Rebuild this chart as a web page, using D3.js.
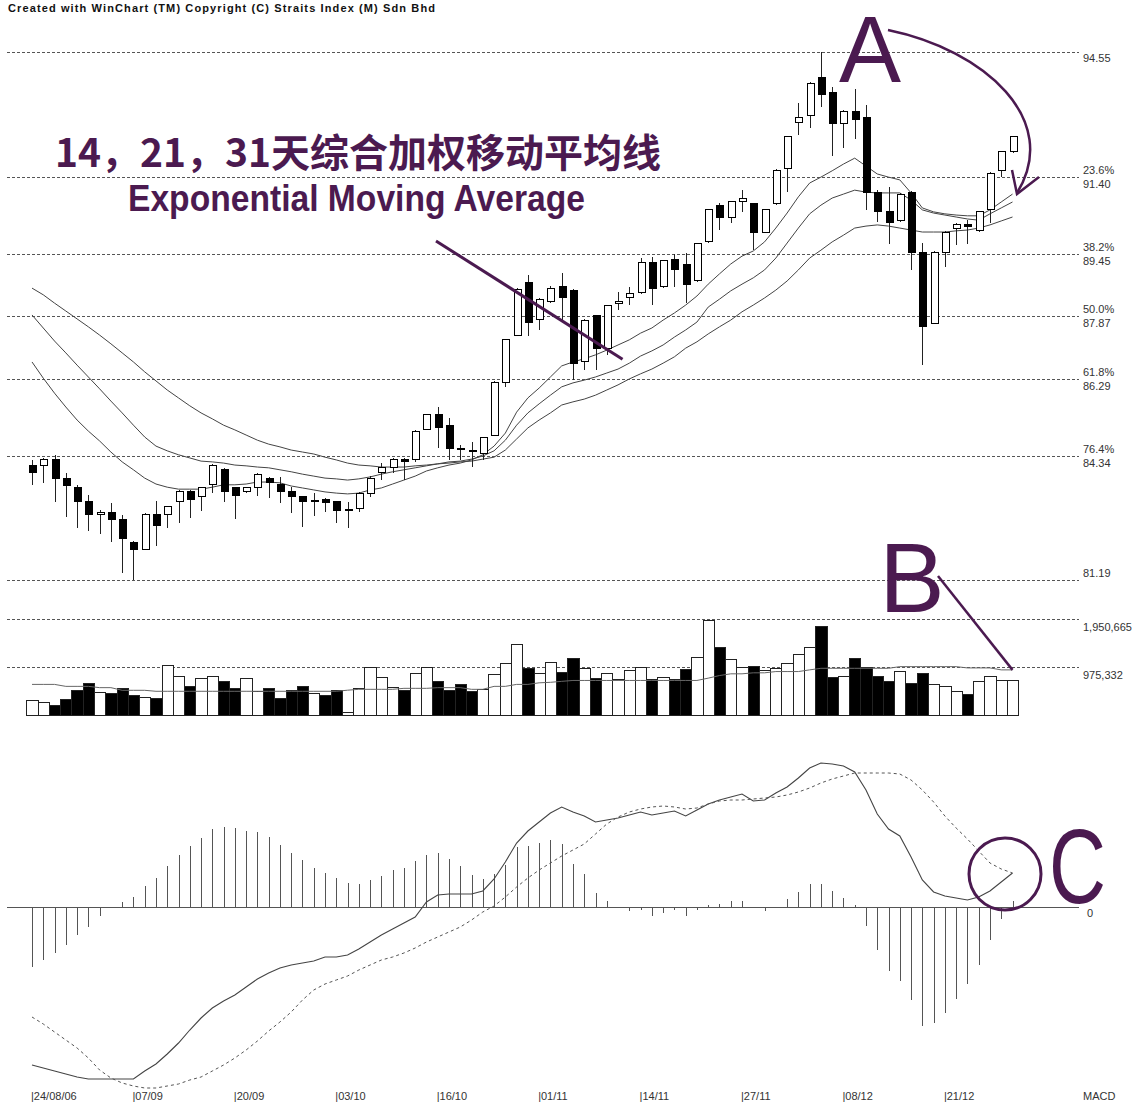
<!DOCTYPE html>
<html>
<head>
<meta charset="utf-8">
<script src="https://cdn.jsdelivr.net/npm/d3@7"></script>
<style>
  body { margin: 0; background: #fff; }
  text { font-family: "Liberation Sans", Arial, sans-serif; }
</style>
</head>
<body>
<script>
const width = 1143;
const height = 1106;

// daily bars 24/08/06 .. 29/12/06
const openP = [84.10,84.08,84.23,83.75,83.54,83.17,82.84,82.91,82.71,82.15,
  81.97,82.84,82.84,83.17,83.44,83.30,83.62,83.98,83.52,83.42,
  83.54,83.77,83.62,83.42,83.30,83.19,83.22,83.17,82.97,82.99,
  83.39,83.90,84.05,84.25,84.23,85.01,85.39,85.09,84.53,84.46,
  84.40,84.86,86.18,87.39,88.71,87.79,88.23,88.61,88.53,86.73,
  87.88,87.06,88.18,88.35,88.48,89.24,88.61,89.30,89.17,88.76,
  89.75,90.68,90.38,90.76,90.71,90.00,90.71,91.60,92.78,92.94,
  93.92,93.54,92.76,93.04,92.89,91.01,90.53,90.30,91.01,89.49,
  87.69,89.49,90.08,90.18,90.05,90.56,91.57,92.05];
const highP = [84.23,84.28,84.35,83.90,83.60,83.34,82.96,83.14,82.84,82.18,
  82.89,83.19,83.06,83.47,83.47,83.54,84.13,84.03,83.52,83.54,
  83.90,83.80,83.80,83.54,83.30,83.39,83.27,83.19,83.17,83.42,
  83.82,84.15,84.28,84.28,84.99,85.39,85.57,85.29,84.61,84.68,
  84.81,86.23,87.29,88.58,88.91,88.33,88.63,88.96,88.56,87.80,
  87.90,88.15,88.48,88.61,89.35,89.37,89.30,89.45,89.47,89.72,
  90.58,90.73,90.76,91.06,90.71,90.58,91.60,92.43,93.27,93.80,
  94.55,93.67,93.09,93.62,93.22,91.06,91.14,90.99,91.04,89.72,
  89.52,90.03,90.23,90.31,90.53,91.52,92.05,92.43];
const lowP = [83.60,83.65,83.17,82.79,82.51,82.43,82.35,82.15,81.37,81.19,
  81.95,82.05,82.51,82.63,82.76,82.94,83.39,83.17,82.74,83.40,
  83.32,83.27,83.14,82.89,82.53,82.81,82.91,82.63,82.51,82.91,
  83.30,83.72,83.90,83.72,84.18,84.99,84.53,84.23,84.23,84.05,
  84.23,84.83,86.08,87.37,87.37,87.52,88.20,87.77,86.25,86.51,
  86.51,86.89,88.03,88.15,88.43,88.15,88.58,88.61,88.20,88.73,
  89.72,90.05,90.23,90.51,89.55,89.97,90.68,91.01,92.46,92.63,
  93.16,91.92,92.12,92.35,90.56,90.25,89.70,90.25,89.04,86.63,
  87.67,89.11,89.67,89.70,90.00,90.23,91.39,92.00];
const closeP = [83.90,84.23,83.75,83.57,83.17,82.84,82.91,82.71,82.23,81.95,
  82.86,82.56,83.04,83.42,83.22,83.52,84.10,83.44,83.32,83.52,
  83.85,83.65,83.44,83.30,83.19,83.20,83.14,82.94,82.96,83.37,
  83.77,84.03,84.25,84.20,84.96,85.37,85.06,84.53,84.51,84.48,
  84.81,86.20,87.27,88.55,87.72,88.30,88.56,88.35,86.68,87.77,
  87.04,88.13,88.25,88.45,89.22,88.58,89.27,89.04,88.66,89.70,
  90.56,90.38,90.76,90.86,89.98,90.56,91.57,92.41,92.89,93.77,
  93.47,92.76,93.06,92.84,91.01,90.51,90.23,90.94,89.49,87.60,
  89.49,90.00,90.18,90.13,90.51,91.49,92.03,92.41];

const volume = [293000,261000,207000,327000,508000,642000,462000,442000,542000,393000,
  361000,341000,1010000,789000,594000,742000,789000,688000,554000,749000,
  474000,554000,341000,508000,594000,442000,393000,508000,60000,554000,
  975000,775000,574000,494000,855000,975000,688000,508000,622000,474000,
  528000,823000,1044000,1445000,955000,849000,1076000,863000,1164000,943000,
  755000,843000,729000,909000,963000,729000,775000,729000,923000,1176000,
  1927000,1377000,1130000,975000,989000,909000,955000,1056000,1244000,1377000,
  1812000,775000,790000,1156000,963000,795000,694000,889000,642000,843000,
  628000,588000,488000,421000,688000,789000,708000,708000];
const volumeAvg = [628000,628000,628000,588000,588000,588000,562000,562000,508000,508000,
  508000,488000,488000,488000,488000,488000,488000,488000,488000,488000,
  488000,488000,488000,488000,488000,488000,488000,488000,510000,528000,
  528000,528000,528000,548000,548000,548000,562000,562000,562000,528000,
  528000,588000,588000,628000,628000,660000,670000,690000,708000,708000,
  708000,708000,708000,708000,708000,708000,708000,708000,708000,708000,
  755000,808000,843000,843000,863000,863000,889000,889000,889000,923000,
  955000,955000,955000,955000,955000,955000,955000,989000,989000,989000,
  989000,989000,989000,963000,963000,963000,923000,923000];

const ema14 = [86.71,86.30,85.92,85.57,85.24,84.96,84.71,84.43,84.18,83.98,
  83.77,83.62,83.54,83.49,83.49,83.49,83.54,83.60,83.60,83.62,
  83.67,83.67,83.65,83.57,83.52,83.47,83.42,83.39,83.37,83.39,
  83.47,83.52,83.62,83.72,83.82,83.95,84.03,84.10,84.15,84.23,
  84.36,84.58,84.91,85.44,85.80,86.05,86.33,86.61,86.71,86.79,
  86.89,87.01,87.14,87.27,87.44,87.57,87.77,87.95,88.15,88.38,
  88.68,88.94,89.19,89.39,89.52,89.75,90.10,90.48,90.89,91.24,
  91.39,91.55,91.72,91.87,91.67,91.47,91.39,91.32,90.99,90.61,
  90.51,90.46,90.43,90.41,90.41,90.56,90.76,90.96];
const ema21 = [87.90,87.57,87.24,86.94,86.63,86.33,86.03,85.72,85.42,85.11,
  84.81,84.58,84.46,84.36,84.28,84.20,84.18,84.15,84.10,84.08,
  84.05,84.03,83.98,83.93,83.87,83.82,83.77,83.75,83.72,83.75,
  83.80,83.87,83.93,83.98,84.03,84.08,84.13,84.18,84.20,84.25,
  84.33,84.46,84.73,85.11,85.42,85.65,85.87,86.08,86.18,86.25,
  86.33,86.43,86.53,86.68,86.86,86.99,87.14,87.34,87.52,87.72,
  88.10,88.30,88.51,88.68,88.84,89.04,89.34,89.72,90.10,90.46,
  90.68,90.86,90.96,91.06,91.01,90.99,90.99,90.99,90.81,90.56,
  90.48,90.43,90.38,90.33,90.30,90.46,90.61,90.76];
const ema31 = [88.58,88.41,88.20,88.00,87.80,87.60,87.39,87.17,86.94,86.71,
  86.46,86.23,86.00,85.80,85.60,85.42,85.27,85.11,84.99,84.86,
  84.73,84.63,84.56,84.48,84.43,84.38,84.30,84.23,84.15,84.10,
  84.08,84.05,84.05,84.05,84.08,84.10,84.13,84.15,84.18,84.20,
  84.25,84.30,84.48,84.76,85.04,85.24,85.42,85.62,85.70,85.77,
  85.87,86.00,86.13,86.28,86.41,86.53,86.68,86.84,87.06,87.22,
  87.42,87.60,87.77,87.98,88.15,88.33,88.53,88.76,89.04,89.34,
  89.54,89.75,89.92,90.10,90.15,90.18,90.15,90.10,90.05,90.00,
  90.00,90.00,90.03,90.05,90.10,90.18,90.28,90.38];

const macd = [-1.58,-1.61,-1.64,-1.67,-1.70,-1.72,-1.72,-1.72,-1.72,-1.72,
  -1.64,-1.57,-1.47,-1.36,-1.23,-1.11,-1.01,-0.94,-0.88,-0.80,
  -0.72,-0.66,-0.61,-0.58,-0.56,-0.54,-0.50,-0.50,-0.48,-0.42,
  -0.35,-0.28,-0.22,-0.16,-0.10,0.05,0.12,0.13,0.13,0.13,
  0.16,0.28,0.45,0.64,0.76,0.85,0.94,1.00,0.95,0.91,
  0.85,0.87,0.89,0.92,0.95,0.92,0.94,0.96,0.91,0.97,
  1.03,1.07,1.10,1.13,1.06,1.07,1.14,1.20,1.29,1.39,
  1.44,1.43,1.41,1.35,1.17,0.93,0.78,0.71,0.50,0.27,
  0.15,0.11,0.09,0.07,0.10,0.16,0.25,0.34];
const signal = [-1.10,-1.17,-1.25,-1.33,-1.41,-1.51,-1.63,-1.71,-1.76,-1.79,
  -1.81,-1.81,-1.79,-1.77,-1.73,-1.70,-1.64,-1.58,-1.51,-1.43,
  -1.34,-1.24,-1.15,-1.05,-0.93,-0.83,-0.77,-0.73,-0.69,-0.63,
  -0.58,-0.53,-0.50,-0.46,-0.41,-0.35,-0.30,-0.25,-0.20,-0.13,
  -0.05,0.01,0.10,0.20,0.29,0.37,0.44,0.51,0.57,0.63,
  0.73,0.83,0.90,0.95,0.98,1.00,1.01,1.00,0.98,0.99,
  1.03,1.06,1.07,1.07,1.08,1.09,1.10,1.12,1.15,1.19,
  1.24,1.28,1.31,1.34,1.34,1.34,1.34,1.33,1.27,1.17,
  1.05,0.91,0.79,0.68,0.56,0.44,0.38,0.34];
const histogram = [-0.60,-0.53,-0.46,-0.38,-0.28,-0.20,-0.09,0.00,0.05,0.10,
  0.21,0.29,0.41,0.52,0.61,0.69,0.78,0.80,0.79,0.76,
  0.75,0.70,0.62,0.54,0.47,0.39,0.34,0.29,0.24,0.23,
  0.27,0.31,0.37,0.39,0.46,0.52,0.54,0.48,0.41,0.32,
  0.28,0.33,0.42,0.60,0.61,0.64,0.67,0.63,0.43,0.33,
  0.14,0.06,0.003,-0.04,-0.03,-0.09,-0.06,-0.03,-0.09,-0.03,
  0.02,0.03,0.06,0.06,0.00,-0.04,0.00,0.08,0.15,0.23,
  0.23,0.16,0.09,0.02,-0.19,-0.43,-0.64,-0.74,-0.93,-1.19,
  -1.16,-1.06,-0.92,-0.77,-0.58,-0.33,-0.12,0.06];

const dateLabels = ["24/08/06", "07/09", "20/09", "03/10", "16/10", "01/11", "14/11", "27/11", "08/12", "21/12"];
const dateIndex = [0, 9, 18, 27, 36, 45, 54, 63, 72, 81];

const priceLevels = [94.55, 91.40, 89.45, 87.87, 86.29, 84.34, 81.19];
const fibLabels = ["", "23.6%", "38.2%", "50.0%", "61.8%", "76.4%", ""];
const volumeLevels = [1950665, 975332];
const volumeLabels = ["1,950,665", "975,332"];

const purple = "#4b1a50";
const ink = "#333";

const svg = d3.select('body').append('svg')
    .attr('width', width)
    .attr('height', height)
    .style('display', 'block')
    .style('background', '#fff');

const n = closeP.length;
const x = d3.scaleLinear().domain([0, n - 1]).range([32, 1012.5]);
const y = d3.scaleLinear().domain([81.19, 94.55]).range([580, 52.3]);
const yVol = d3.scaleLinear().domain([0, 1950665]).range([715.3, 619.3]);
const yMacd = d3.scaleLinear().domain([-2, 1.6]).range([1107, 747]);
const step = x(1) - x(0);
const px = v => Math.round(v) + 0.5;

// header
svg.append("text")
    .attr("x", 8).attr("y", 12)
    .attr("textLength", 427)
    .style("font-size", "11px").style("font-weight", "bold")
    .attr("fill", "#111")
    .text("Created with WinChart (TM)  Copyright (C) Straits Index (M) Sdn Bhd");

// dotted reference lines
const grid = svg.append("g")
    .attr("stroke", "#555").attr("stroke-dasharray", "3,2");
grid.selectAll("line.price").data(priceLevels).enter().append("line")
    .attr("x1", 7).attr("x2", 1079)
    .attr("y1", d => px(y(d))).attr("y2", d => px(y(d)));
grid.selectAll("line.vol").data(volumeLevels).enter().append("line")
    .attr("x1", 7).attr("x2", 1079)
    .attr("y1", d => px(yVol(d))).attr("y2", d => px(yVol(d)));

// right-hand labels
const lab = svg.append("g").attr("fill", ink).style("font-size", "11px");
priceLevels.forEach(function(d, i) {
  const yy = y(d);
  if (fibLabels[i]) {
    lab.append("text").attr("x", 1083).attr("y", yy - 3).text(fibLabels[i]);
    lab.append("text").attr("x", 1083).attr("y", yy + 11).text(d.toFixed(2));
  } else if (i === 0) {
    lab.append("text").attr("x", 1083).attr("y", yy + 10).text(d.toFixed(2));
  } else {
    lab.append("text").attr("x", 1083).attr("y", yy - 3).text(d.toFixed(2));
  }
});
volumeLevels.forEach(function(d, i) {
  lab.append("text").attr("x", 1083).attr("y", yVol(d) + 12).text(volumeLabels[i]);
});
lab.append("text").attr("x", 1087).attr("y", yMacd(0) + 10).text("0");
lab.append("text").attr("x", 1083).attr("y", 1100).text("MACD");

// date labels
lab.selectAll("text.date").data(dateLabels).enter().append("text")
    .attr("x", (d, i) => x(dateIndex[i]) - 1)
    .attr("y", 1100)
    .text(d => "|" + d);

// exponential moving averages
const emaLine = d3.line().x((d, i) => x(i)).y(d => y(d));
svg.append("g").attr("fill", "none").attr("stroke", "#444").attr("stroke-width", 1)
  .selectAll("path").data([ema14, ema21, ema31]).enter().append("path")
    .attr("d", emaLine);

// candlesticks
const candles = svg.append("g").attr("shape-rendering", "crispEdges");
candles.selectAll("line").data(closeP).enter().append("line")
    .attr("x1", (d, i) => px(x(i))).attr("x2", (d, i) => px(x(i)))
    .attr("y1", (d, i) => y(highP[i])).attr("y2", (d, i) => y(lowP[i]))
    .attr("stroke", "#222");
candles.selectAll("rect").data(closeP).enter().append("rect")
    .attr("x", (d, i) => Math.round(x(i)) - 3)
    .attr("width", 7)
    .attr("y", (d, i) => y(Math.max(openP[i], d)))
    .attr("height", (d, i) => Math.max(1, y(Math.min(openP[i], d)) - y(Math.max(openP[i], d))))
    .attr("fill", (d, i) => d >= openP[i] ? "#fff" : "#000")
    .attr("stroke", "#000");

// volume
const volG = svg.append("g").attr("shape-rendering", "crispEdges");
volG.selectAll("rect").data(volume).enter().append("rect")
    .attr("x", (d, i) => Math.round(x(i) - step / 2))
    .attr("width", (d, i) => Math.round(x(i) + step / 2) - Math.round(x(i) - step / 2))
    .attr("y", d => yVol(d))
    .attr("height", d => yVol(0) - yVol(d))
    .attr("fill", (d, i) => (i === 0 || closeP[i] >= closeP[i - 1]) ? "#fff" : "#000")
    .attr("stroke", "#222");
svg.append("path")
    .datum(volumeAvg)
    .attr("fill", "none").attr("stroke", "#666").attr("stroke-width", 1)
    .attr("d", d3.line().x((d, i) => x(i)).y(d => yVol(d)));

// MACD
svg.append("line")
    .attr("x1", 7).attr("x2", 1079)
    .attr("y1", px(yMacd(0))).attr("y2", px(yMacd(0)))
    .attr("stroke", "#555");
svg.append("g").attr("stroke", "#555").attr("shape-rendering", "crispEdges")
  .selectAll("line").data(histogram).enter().append("line")
    .attr("x1", (d, i) => px(x(i))).attr("x2", (d, i) => px(x(i)))
    .attr("y1", yMacd(0)).attr("y2", d => yMacd(d));
const macdLine = d3.line().x((d, i) => x(i)).y(d => yMacd(d));
svg.append("path").datum(macd)
    .attr("fill", "none").attr("stroke", "#444").attr("stroke-width", 1.1)
    .attr("d", macdLine);
svg.append("path").datum(signal)
    .attr("fill", "none").attr("stroke", "#555").attr("stroke-width", 1)
    .attr("stroke-dasharray", "3,3")
    .attr("d", macdLine);

// annotations
const ann = svg.append("g");
ann.append("text")
    .attr("x", 55).attr("y", 167)
    .attr("fill", purple)
    .style("font-family", '"Noto Sans CJK SC", sans-serif')
    .style("font-weight", "bold").style("font-size", "39px")
    .text("14，21，31天综合加权移动平均线");
ann.append("text")
    .attr("x", 128).attr("y", 211)
    .attr("textLength", 457).attr("lengthAdjust", "spacingAndGlyphs")
    .attr("fill", purple)
    .style("font-weight", "bold").style("font-size", "36px")
    .text("Exponential Moving Average");
ann.append("line")
    .attr("x1", 436).attr("y1", 241)
    .attr("x2", x(52.4)).attr("y2", y(86.78))
    .attr("stroke", purple).attr("stroke-width", 3);

ann.append("text").attr("x", 839).attr("y", 82)
    .attr("textLength", 62).attr("lengthAdjust", "spacingAndGlyphs")
    .attr("fill", purple)
    .style("font-size", "94px").text("A");
ann.append("path")
    .attr("d", "M888,30 C985,50 1062,120 1017,193")
    .attr("fill", "none").attr("stroke", purple).attr("stroke-width", 2.5);
ann.append("path")
    .attr("d", "M1012,170 L1017,194 L1039,177")
    .attr("fill", "none").attr("stroke", purple).attr("stroke-width", 2.5);

ann.append("text").attr("x", 912).attr("y", 612)
    .attr("text-anchor", "middle").attr("fill", purple)
    .style("font-size", "98px").text("B");
ann.append("line")
    .attr("x1", 938).attr("y1", 576)
    .attr("x2", x(n - 1)).attr("y2", yVol(volumeAvg[n - 1]))
    .attr("stroke", purple).attr("stroke-width", 2.5);

ann.append("text").attr("x", 1049).attr("y", 903)
    .attr("textLength", 57).attr("lengthAdjust", "spacingAndGlyphs")
    .attr("fill", purple)
    .style("font-size", "106px").text("C");
ann.append("circle")
    .attr("cx", 1005).attr("cy", 874).attr("r", 36)
    .attr("fill", "none").attr("stroke", purple).attr("stroke-width", 3);
</script>
</body>
</html>
